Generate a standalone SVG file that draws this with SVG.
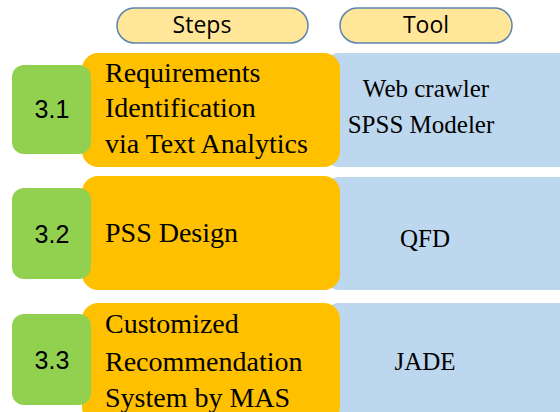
<svg xmlns="http://www.w3.org/2000/svg" width="560" height="412" viewBox="0 0 560 412">
<style>
.pill{fill:#FFE699;stroke:#5B84B1;stroke-width:1.5}
.hd{font-family:"Open Sans","Liberation Sans",Arial,sans-serif;font-size:23px;fill:#000;text-anchor:middle}
.tool{fill:#BDD7EE}
.step{fill:#FFC000}
.num{fill:#92D050}
.nt{font-family:"Liberation Sans",Arial,sans-serif;font-size:25px;fill:#000;text-anchor:middle}
.st{font-family:"Liberation Serif","Times New Roman",serif;font-size:28px;fill:#000}
.tt{font-family:"Liberation Serif","Times New Roman",serif;font-size:25px;fill:#000;text-anchor:middle}
</style>
<rect width="560" height="412" fill="#fff"/>
<g id="header-steps"><rect class="pill" x="117" y="8" width="191" height="35" rx="17.5"/><text class="hd" x="202" y="33">Steps</text></g>
<g id="header-tool"><rect class="pill" x="340" y="8" width="172" height="35" rx="17.5"/><text class="hd" x="426" y="33">Tool</text></g>
<g id="row1">
<rect class="tool" x="325" y="53" width="250" height="114" rx="14"/>
<rect class="step" x="82" y="53" width="258" height="114" rx="16"/>
<rect class="num" x="12" y="65" width="79" height="89" rx="12"/>
<text class="nt" x="52" y="118">3.1</text>
<text class="st" x="105" y="82">Requirements</text>
<text class="st" x="105" y="117">Identification</text>
<text class="st" x="105" y="153">via Text Analytics</text>
<text class="tt" x="426" y="97">Web crawler</text>
<text class="tt" x="421" y="133">SPSS Modeler</text>
</g>
<g id="row2">
<rect class="tool" x="325" y="177" width="250" height="113" rx="14"/>
<rect class="step" x="82" y="176" width="258" height="114" rx="16"/>
<rect class="num" x="12" y="188" width="79" height="91" rx="12"/>
<text class="nt" x="52" y="243">3.2</text>
<text class="st" x="105" y="242">PSS Design</text>
<text class="tt" x="425" y="247">QFD</text>
</g>
<g id="row3">
<rect class="tool" x="325" y="303" width="250" height="120" rx="14"/>
<rect class="step" x="82" y="303" width="258" height="120" rx="16"/>
<rect class="num" x="12" y="314" width="79" height="91" rx="12"/>
<text class="nt" x="52" y="369">3.3</text>
<text class="st" x="105" y="333">Customized</text>
<text class="st" x="105" y="371">Recommendation</text>
<text class="st" x="105" y="407">System by MAS</text>
<text class="tt" x="425" y="370">JADE</text>
</g>
<g id="connectors"/>
</svg>
